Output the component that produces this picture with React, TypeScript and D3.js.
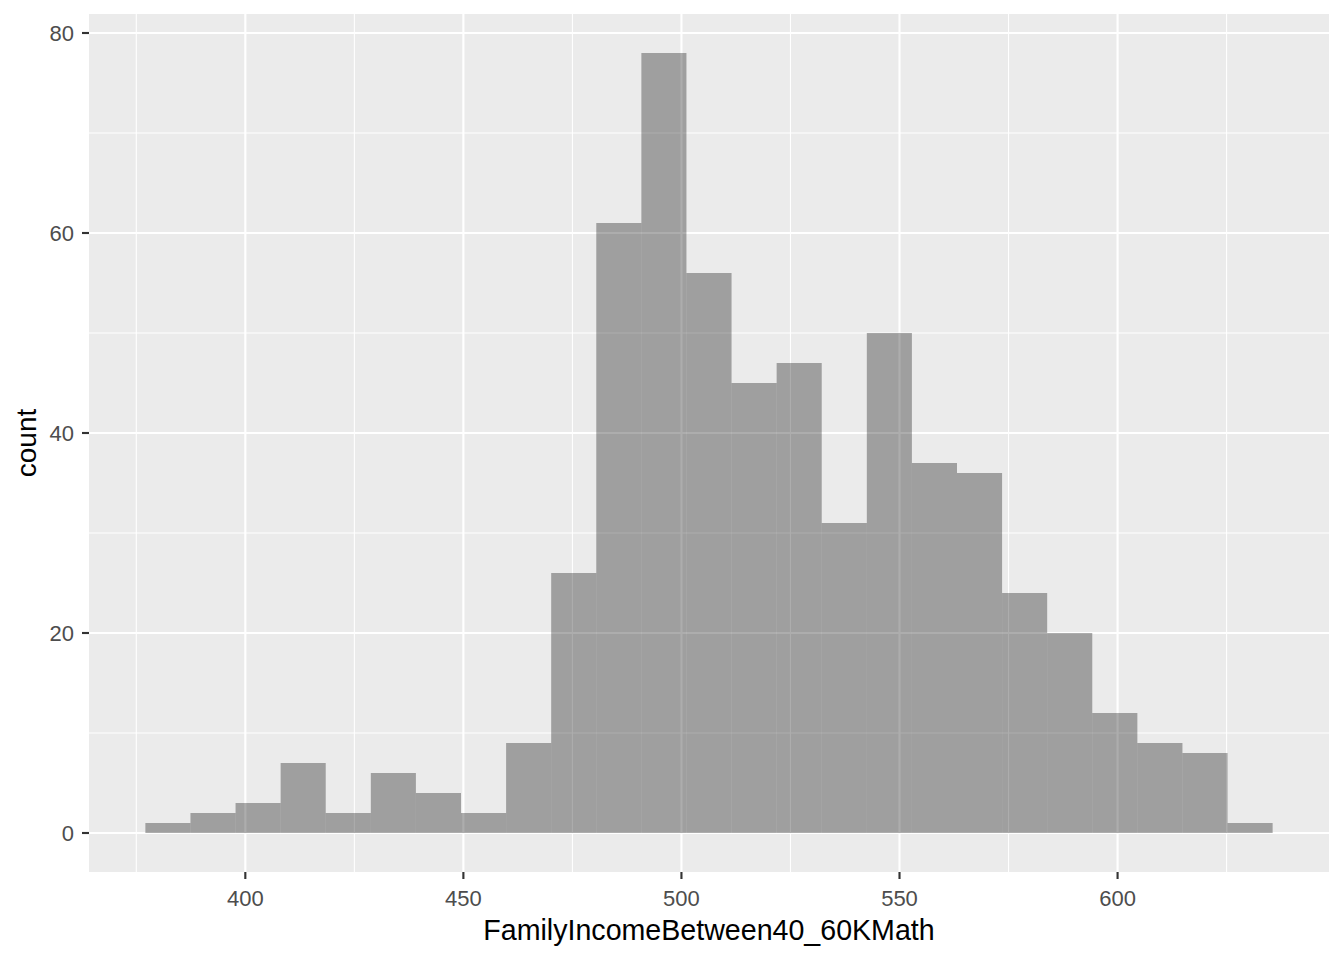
import React from "react";
import * as d3 from "d3";

const binStart = 377.08;
const binWidth = 10.339;
const counts = [1, 2, 3, 7, 2, 6, 4, 2, 9, 26, 61, 78, 56, 45, 47, 31, 50, 37, 36, 24, 20, 12, 9, 8, 1];
const xTicks = [400, 450, 500, 550, 600];
const xMinor = [375, 425, 475, 525, 575, 625];
const yTicks = [0, 20, 40, 60, 80];
const yMinor = [10, 30, 50, 70];
const xTitle = "FamilyIncomeBetween40_60KMath";
const yTitle = "count";

export default function App() {
  const W = 1344, H = 960;
  const left = 89, right = 1329, top = 14, bottom = 872;
  const xMax = binStart + binWidth * counts.length;
  const xPad = (xMax - binStart) * 0.05;
  const yMaxV = d3.max(counts) as number;
  const yPad = yMaxV * 0.05;
  const x = d3.scaleLinear().domain([binStart - xPad, xMax + xPad]).range([left, right]);
  const y = d3.scaleLinear().domain([-yPad, yMaxV + yPad]).range([bottom, top]);
  const font = "Liberation Sans, Arial, sans-serif";
  return (
    <svg width={W} height={H} style={{ position: "absolute", left: 0, top: 0, background: "#fff" }}>
      <rect x={left} y={top} width={right - left} height={bottom - top} fill="#EBEBEB" />
      {xMinor.map((v) => (
        <line key={"xm" + v} x1={x(v)} x2={x(v)} y1={top} y2={bottom} stroke="#fff" strokeWidth={1.07} />
      ))}
      {yMinor.map((v) => (
        <line key={"ym" + v} x1={left} x2={right} y1={y(v)} y2={y(v)} stroke="#fff" strokeWidth={1.07} />
      ))}
      {xTicks.map((v) => (
        <line key={"xg" + v} x1={x(v)} x2={x(v)} y1={top} y2={bottom} stroke="#fff" strokeWidth={2.13} />
      ))}
      {yTicks.map((v) => (
        <line key={"yg" + v} x1={left} x2={right} y1={y(v)} y2={y(v)} stroke="#fff" strokeWidth={2.13} />
      ))}
      {counts.map((c, i) => {
        const x0 = x(binStart + i * binWidth);
        const x1 = x(binStart + (i + 1) * binWidth);
        return (
          <rect key={"b" + i} x={x0} y={y(c)} width={x1 - x0} height={y(0) - y(c)} fill="#000" fillOpacity={0.32} />
        );
      })}
      {xTicks.map((v) => (
        <g key={"xt" + v}>
          <line x1={x(v)} x2={x(v)} y1={bottom} y2={bottom + 7} stroke="#333" strokeWidth={2.13} />
          <text x={x(v)} y={905.5} textAnchor="middle" fontFamily={font} fontSize={22} fill="#4D4D4D">{v}</text>
        </g>
      ))}
      {yTicks.map((v) => (
        <g key={"yt" + v}>
          <line x1={left - 7} x2={left} y1={y(v)} y2={y(v)} stroke="#333" strokeWidth={2.13} />
          <text x={left - 15} y={y(v) + 8} textAnchor="end" fontFamily={font} fontSize={22} fill="#4D4D4D">{v}</text>
        </g>
      ))}
      <text x={(left + right) / 2} y={939.5} textAnchor="middle" fontFamily={font} fontSize={28.6} fill="#000">{xTitle}</text>
      <text transform={`translate(36,${(top + bottom) / 2}) rotate(-90)`} textAnchor="middle" fontFamily={font} fontSize={28} fill="#000">{yTitle}</text>
    </svg>
  );
}
